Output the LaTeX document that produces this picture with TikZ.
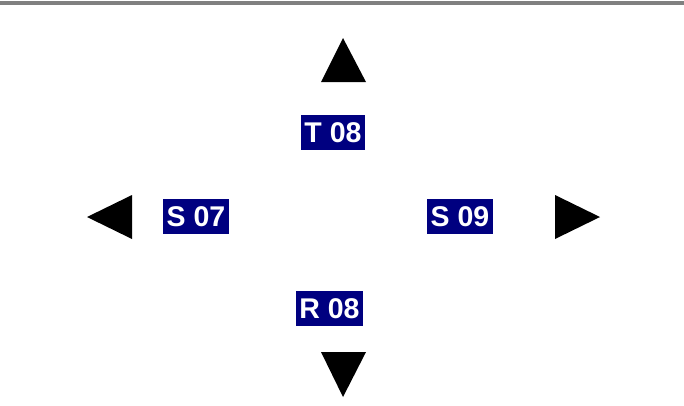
\documentclass[tikz,border=0pt]{standalone}
\usepackage{fontspec}
\setmainfont{Liberation Sans}
\definecolor{navybox}{RGB}{0,0,128}
\definecolor{topline}{RGB}{128,128,128}
\begin{document}
\begin{tikzpicture}[x=1pt,y=-1pt,
  lbl/.style={fill=navybox,text=white,font=\bfseries\fontsize{28.5}{28.5}\selectfont,
    inner sep=0pt,minimum height=35pt,anchor=center},
  tri/.style={fill=black}]
\useasboundingbox (0,0) rectangle (684,405);
\fill[white] (0,0) rectangle (684,405);
\draw[topline,line width=3.5pt] (0,3) -- (684,3);
% labels
\node[lbl,minimum width=64pt] (t08) at (333,132.5) {T 08};
\node[lbl,minimum width=66pt] (s07) at (196,216.5) {S 07};
\node[lbl,minimum width=66pt] (s09) at (460,216.5) {S 09};
\node[lbl,minimum width=67pt] (r08) at (329.5,308.5) {R 08};
% arrows
\fill[tri] (343,38) -- (366,82) -- (321,82) -- cycle;
\fill[tri] (343,397) -- (366,352) -- (321,352) -- cycle;
\fill[tri] (87,217) -- (132,195) -- (132,239) -- cycle;
\fill[tri] (600,217) -- (555,195) -- (555,239) -- cycle;
\end{tikzpicture}
\end{document}
